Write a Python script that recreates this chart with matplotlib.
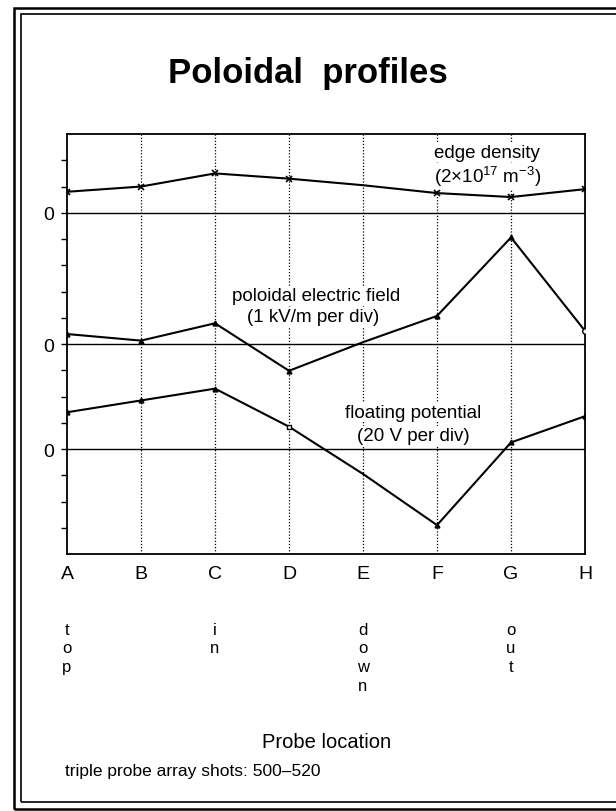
import matplotlib
matplotlib.use("Agg")
import matplotlib.pyplot as plt
import matplotlib.transforms as mtransforms
from matplotlib.patches import Rectangle

plt.rcParams['font.family'] = ['Liberation Sans', 'DejaVu Sans']
plt.rcParams['mathtext.default'] = 'regular'

# probe locations
locations = ["A", "B", "C", "D", "E", "F", "G", "H"]
# edge density, 1e17 m^-3
edge_density = [1.6, 2.0, 3.0, 2.6, 2.1, 1.5, 1.2, 1.8]
# poloidal electric field, kV/m
e_field = [0.38, 0.13, 0.79, -1.02, 0.07, 1.07, 4.06, 0.50]
# floating potential, V
float_pot = [28, 37, 46, 17, -19, -58, 5, 25]

# position labels under some probes
position_names = {"A": "top", "C": "in", "E": "down", "G": "out"}

# each trace has its own zero line and scale (per division)
density_zero, density_div = 13, 2.0
field_zero, field_div = 8, 1.0
pot_zero, pot_div = 4, 20.0

x = list(range(len(locations)))
y_density = [density_zero + v / density_div for v in edge_density]
y_field = [field_zero + v / field_div for v in e_field]
y_pot = [pot_zero + v / pot_div for v in float_pot]

fig = plt.figure(figsize=(6.16, 8.12), dpi=100)
ax = fig.add_axes([0.1088, 0.3165, 0.8409, 0.5172])

# dotted probe lines
for xi in x[1:-1]:
    ax.axvline(xi, color='black', linestyle=(0, (1, 1.5)), lw=0.9, zorder=1)
# zero lines
for z in [density_zero, field_zero, pot_zero]:
    ax.axhline(z, color='black', lw=1.0, zorder=2)

ax.plot(x, y_density, color='black', lw=1.5, marker='x', ms=4, mew=1.2,
        markevery=[0, 1, 2, 3, 5, 6, 7], zorder=3)
ax.plot(x, y_field, color='black', lw=1.5, marker='^', ms=3.5,
        markevery=[0, 1, 2, 3, 5, 6], zorder=3)
ax.plot(x[-1], y_field[-1], marker='o', ms=4, mfc='white', mec='black', zorder=4)
ax.plot(x, y_pot, color='black', lw=1.5, marker='^', ms=3.5,
        markevery=[0, 1, 2, 5, 6, 7], zorder=3)
ax.plot(x[3], y_pot[3], marker='s', ms=3.5, mfc='white', mec='black', zorder=4)

ax.set_xlim(0, 7)
ax.set_ylim(0, 16)
ax.set_xticks(x)
ax.set_xticklabels(locations, fontsize=14)
ax.tick_params(axis='x', length=0, pad=8)

yt = [i for i in range(1, 16)]
ax.set_yticks(yt)
ax.set_yticklabels(['0' if t in (density_zero, field_zero, pot_zero) else '' for t in yt],
                   fontsize=14)
ax.tick_params(axis='y', direction='out', length=4, width=1, pad=5)
for s in ax.spines.values():
    s.set_linewidth(1.3)

box = dict(facecolor='white', edgecolor='none', pad=1)
ax.text(5.68, 15.31, "edge density", ha='center', va='center', fontsize=13.5, bbox=box, zorder=5)
ax.text(5.68, 14.4, "(2×10$^{17}$ m$^{-3}$)", ha='center', va='center', fontsize=13.5,
        bbox=box, zorder=5)
ax.text(3.36, 9.83, "poloidal electric field", ha='center', va='center', fontsize=13.5,
        bbox=box, zorder=5)
ax.text(3.33, 9.03, "(1 kV/m per div)", ha='center', va='center', fontsize=13.5,
        bbox=box, zorder=5)
ax.text(4.68, 5.41, "floating potential", ha='center', va='center', fontsize=13.5,
        bbox=box, zorder=5)
ax.text(4.68, 4.50, "(20 V per div)", ha='center', va='center', fontsize=13.5,
        bbox=box, zorder=5)

# stacked position names under the axis
trans = mtransforms.blended_transform_factory(ax.transData, fig.transFigure)
for i, loc in enumerate(locations):
    if loc in position_names:
        ax.text(i, 0.233, "\n".join(position_names[loc]), transform=trans, ha='center',
                va='top', fontsize=12, linespacing=1.3)

fig.text(0.5, 0.91, "Poloidal  profiles", ha='center', va='center', fontsize=25,
         fontweight='bold')
fig.text(0.53, 0.085, "Probe location", ha='center', va='center', fontsize=14.5)
fig.text(0.106, 0.05, "triple probe array shots: 500\u2013520", ha='left', va='center',
         fontsize=12.5)

# double frame around the page
fig.patches.append(Rectangle((0.0227, 0.0025), 1.1, 0.9865, transform=fig.transFigure,
                             fill=False, lw=1.8, edgecolor='black'))
fig.patches.append(Rectangle((0.034, 0.011), 1.1, 0.9705, transform=fig.transFigure,
                             fill=False, lw=1.2, edgecolor='black'))

fig.savefig("out.png", dpi=100)
